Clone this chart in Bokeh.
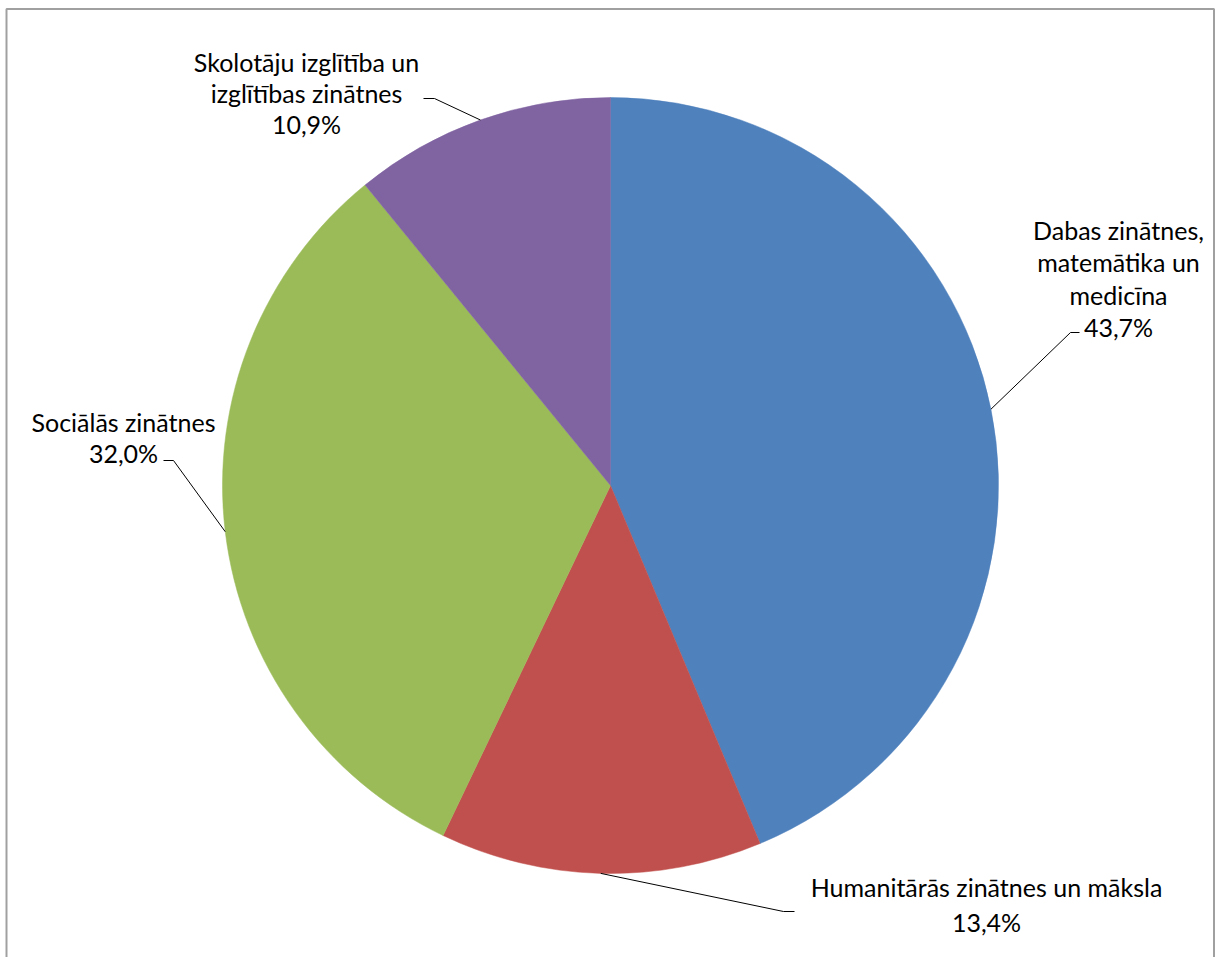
import math
from bokeh.plotting import figure
from bokeh.models import Range1d, ColumnDataSource
from bokeh.core.properties import value
from bokeh.embed import file_html
from bokeh.resources import INLINE

# ---- data ----
categories = ["Dabas zinātnes,\nmatemātika un\nmedicīna",
              "Humanitārās zinātnes un māksla",
              "Sociālās zinātnes",
              "Skolotāju izglītība un\nizglītības zinātnes"]
shares = [43.7, 13.4, 32.0, 10.9]
pct_labels = ["43,7%", "13,4%", "32,0%", "10,9%"]
colors = ["#4F81BD", "#C0504D", "#9BBB59", "#8064A2"]

# ---- layout (pixel coordinates of the page) ----
W, H = 1216, 957
PX0, PY0 = 0, 0
def Y(py):
    return (PY0 + H) - py

CX, CY, R = 610, 485, 388
FONT = "Lato"
FSIZE = "25px"
# label block: centre x, y of first line, line step; leader elbow & end; optional anchor override (deg)
label_layout = [
    dict(cx=1118, y0=229, lh=32.5, elbow=(1070, 332), end=(1079, 332), anchor=None),
    dict(cx=986, y0=886, lh=35, elbow=(783, 911), end=(794, 911), anchor=None),
    dict(cx=123, y0=421, lh=31.5, elbow=(173, 460), end=(163, 460), anchor=None),
    dict(cx=306, y0=61, lh=31, elbow=(434, 98), end=(423, 98), anchor=109.6),
]

p = figure(width=W, height=H, output_backend="svg", toolbar_location=None,
           x_range=Range1d(PX0, PX0 + W), y_range=Range1d(0, H),
           min_border=0, x_axis_type=None, y_axis_type=None)
p.grid.visible = False
p.outline_line_color = None
p.background_fill_color = "white"

total = sum(shares)
starts, ends, mids = [], [], []
cum = 0.0
for s in shares:
    a0 = math.pi / 2 - cum / total * 2 * math.pi
    cum += s
    a1 = math.pi / 2 - cum / total * 2 * math.pi
    starts.append(a0); ends.append(a1); mids.append((a0 + a1) / 2)

src = ColumnDataSource(dict(start=starts, end=ends, color=colors))
p.wedge(x=CX, y=Y(CY), radius=R, start_angle="start", end_angle="end",
        direction="clock", fill_color="color", line_color="color",
        line_width=0.5, source=src)

# leader lines and labels
lx, ly = [], []
tx, ty, tt = [], [], []
for i, lay in enumerate(label_layout):
    ang = math.radians(lay["anchor"]) if lay["anchor"] is not None else mids[i]
    ex = CX + R * math.cos(ang)
    ey = Y(CY) + R * math.sin(ang)
    lx.append([ex, lay["elbow"][0], lay["end"][0]])
    ly.append([ey, Y(lay["elbow"][1]), Y(lay["end"][1])])
    lines = categories[i].split("\n") + [pct_labels[i]]
    for k, t in enumerate(lines):
        tx.append(lay["cx"]); ty.append(Y(lay["y0"] + k * lay["lh"])); tt.append(t)

p.multi_line(xs=lx, ys=ly, line_color="black", line_width=1)
p.text(x=tx, y=ty, text=tt, text_font=value(FONT), text_font_size=FSIZE,
       text_align="center", text_baseline="middle", text_color="black")

# chart frame (left, top, right; bottom is outside the window)
p.line(x=[6, 6, 1213.5, 1213.5], y=[0, Y(8.5), Y(8.5), 0],
       line_color="#A0A0A0", line_width=2)

open("out.html", "w").write(file_html(p, INLINE))
